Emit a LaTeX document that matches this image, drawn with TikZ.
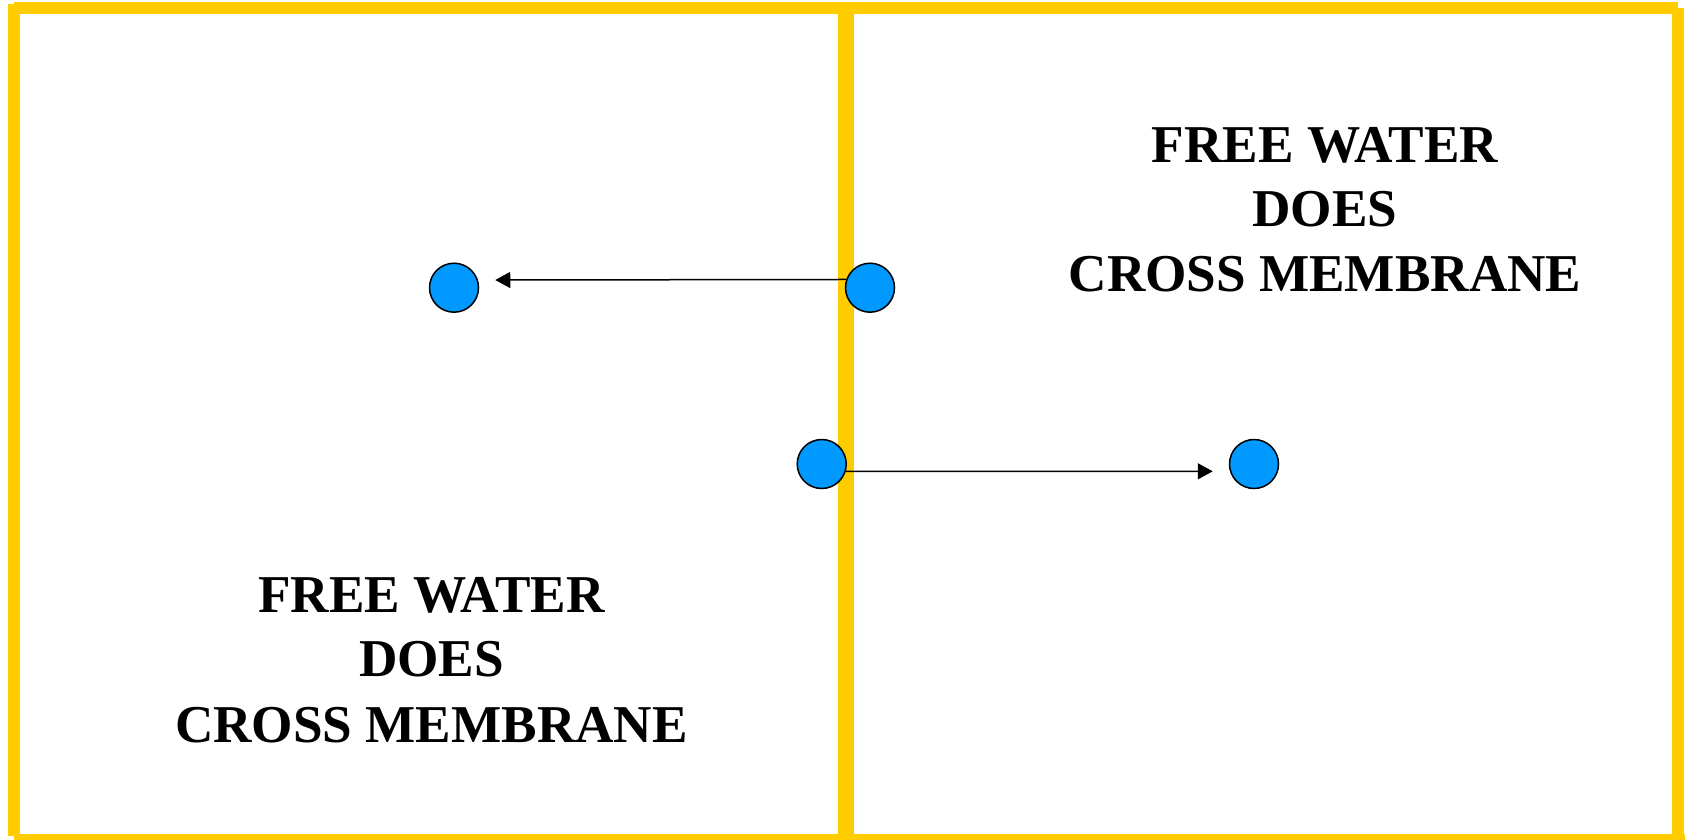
\documentclass[tikz,border=0pt]{standalone}
\usepackage{fontspec}
\setmainfont{Liberation Serif}
\usetikzlibrary{arrows.meta}
\definecolor{frameyellow}{HTML}{FFCC00}
\definecolor{waterblue}{HTML}{0099FF}
\tikzset{
  frame/.style={draw=frameyellow, line width=12pt, line cap=butt},
  membrane/.style={draw=frameyellow, line width=16pt, line cap=butt},
  molecule/.style={circle, draw=black, fill=waterblue, line width=1.5pt, minimum size=49pt, inner sep=0pt},
  flow/.style={draw=black, line width=1.5pt, -{Triangle[length=15pt,width=16pt]}},
  label/.style={align=center, font=\fontsize{53.2pt}{65pt}\selectfont\bfseries, inner sep=0pt, anchor=base}
}
\begin{document}
\begin{tikzpicture}[x=1pt,y=-1pt]
\useasboundingbox (0,0) rectangle (1685,839);
\begin{scope}
\clip (0,0) rectangle (1685,839);
% outer frame
\draw[frame] (14,4) -- (14,836);
\draw[frame] (14,8) -- (1678,8);
\draw[frame] (1678,8) -- (1678,846);
\draw[frame] (14,840) -- (1685,840);
% membrane
\draw[membrane] (846,8) -- (846,846);
\end{scope}
% molecules
\node[molecule] (a) at (454,287.7) {};
\node[molecule] (b) at (870,287.7) {};
\node[molecule] (c) at (821.7,464) {};
\node[molecule] (d) at (1254,464) {};
% arrows
\draw[flow] (b.161) -- ([xshift=16pt,yshift=7.7pt]a.east);
\draw[flow] (c.-17) -- ([xshift=-16pt,yshift=-7.3pt]d.west);
% texts
\node[label] (t1) at (1325,162) {FREE WATER};
\node[label] (t2) at (1325,226) {DOES};
\node[label] (t3) at (1325,291.7) {CROSS MEMBRANE};
\node[label] (t4) at (431.5,612) {FREE WATER};
\node[label] (t5) at (431.5,676) {DOES};
\node[label] (t6) at (431.5,742) {CROSS MEMBRANE};
\end{tikzpicture}
\end{document}
